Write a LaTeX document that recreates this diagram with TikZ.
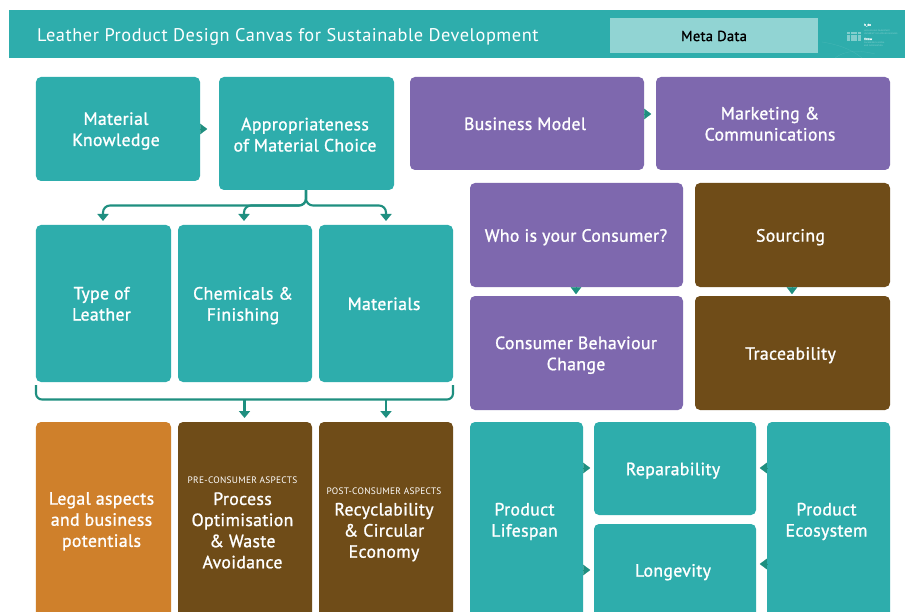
\documentclass[tikz,border=0pt]{standalone}
\usepackage{fontspec}
\setmainfont{PT Sans}[LetterSpace=2,FakeBold=1.2]
\newfontfamily\plainfont{PT Sans}[LetterSpace=3]
\usetikzlibrary{arrows.meta,calc}
\definecolor{teal1}{HTML}{2EADAC}
\definecolor{tealar}{HTML}{1F8F80}
\definecolor{purp}{HTML}{7E68AE}
\definecolor{brown1}{HTML}{6F4C18}
\definecolor{orange1}{HTML}{CF802B}
\definecolor{metac}{HTML}{91D4D3}
\tikzset{
 x=1bp,y=-1bp,
 card/.style={rectangle,rounded corners=5bp,inner sep=0pt},
 cardtext/.style={align=center,text=white,inner sep=0pt,font=\fontsize{17.8}{21.2}\selectfont},
 tealcard/.style={card,fill=teal1},
 purpcard/.style={card,fill=purp},
 browncard/.style={card,fill=brown1},
 orangecard/.style={card,fill=orange1},
 logotext/.style={anchor=west,inner sep=0pt,align=left,text=metac,font=\plainfont\fontsize{2.1}{2.9}\selectfont},
 logohead/.style={anchor=west,inner sep=0pt,text=white,font=\fontsize{3.2}{3.2}\selectfont},
 link/.style={draw=tealar,line width=2.1bp},
 tip/.style={link,-{Triangle[length=7bp,width=11bp]}},
 nub/.style={-{Triangle[length=7bp,width=10.5bp]},draw=tealar,line width=0.1bp,shorten <=-0.5bp},
}
% style,name,x1,y1,x2,y2,text dx,text dy,text
\newcommand{\card}[9]{%
 \node[#1,minimum width=#5bp-#3bp,minimum height=#6bp-#4bp,
   label={[cardtext,xshift=#7bp,yshift=-#8bp]center:{#9}}] (#2) at ({(#3+#5)/2},{(#4+#6)/2}) {};}
\newcommand{\smalltag}[1]{{\plainfont\fontsize{9.4}{17}\selectfont #1}}
\begin{document}
\begin{tikzpicture}
\useasboundingbox (0,0) rectangle (905,612);
\clip (0,0) rectangle (905,612);
\fill[white] (0,0) rectangle (905,612);
\fill[teal1] (9,10) rectangle (905,58);
\draw[metac,opacity=0.25,line width=0.3bp] (822,42) .. controls (835,44) and (850,48) .. (862,58);
\draw[metac,opacity=0.25,line width=0.3bp] (835,58) .. controls (845,50) and (860,50) .. (875,54);
\node[anchor=west,text=white,inner sep=0pt,font=\plainfont\fontsize{18.4}{22}\selectfont] (title) at (37,36.5) {Leather Product Design Canvas for Sustainable Development};
\node[fill=metac,minimum width=208bp,minimum height=35bp,inner sep=0pt,font=\fontsize{14.6}{17}\selectfont,text=black] (meta) at (714,36) {Meta Data};
% logo
\node[logohead] (logoa) at (864,25) {h\_da};
\node[logotext] (logob) at (864,32.5) {HOCHSCHULE DARMSTADT\\UNIVERSITY OF APPLIED SCIENCES};
\node[logohead] (logoc) at (864,39) {fbmw};
\node[logotext] (logod) at (864,44.5) {FACHBEREICH MEDIA\\AND INFORMATION};
\foreach \r in {0,...,2}{\foreach \c in {0,...,3}{
  \fill[metac,opacity=0.85] ({847+\c*3.6},{32+\r*3.2}) rectangle ({847+\c*3.6+3},{32+\r*3.2+2.4});
}}
% cards
\card{tealcard}{mk}{36}{77}{200}{181}{-2}{2}{Material\\Knowledge}
\card{tealcard}{app}{219}{77}{394}{190}{-1.5}{1.2}{Appropriateness\\of Material Choice}
\card{purpcard}{bm}{410}{77}{644}{170}{-2}{0.3}{Business Model}
\card{purpcard}{mc}{656}{77}{890}{170}{-3}{0.3}{Marketing \&\\Communications}
\card{tealcard}{tl}{36}{225}{171}{382}{-2}{0.3}{Type of\\Leather}
\card{tealcard}{cf}{178}{225}{312}{382}{-2}{2.2}{Chemicals \&\\Finishing}
\card{tealcard}{mat}{319}{225}{453}{382}{-2}{0.3}{Materials}
\card{purpcard}{who}{470}{183}{683}{287}{-0.5}{2.2}{Who is your Consumer?}
\card{browncard}{src}{695}{183}{890}{287}{-2}{2.2}{Sourcing}
\card{purpcard}{cbc}{470}{296}{683}{410}{-0.5}{2.2}{Consumer Behaviour\\Change}
\card{browncard}{tr}{695}{296}{890}{410}{-2}{2.2}{Traceability}
\card{orangecard}{leg}{36}{422}{171}{620}{-2}{0.3}{Legal aspects\\and business\\potentials}
\card{browncard}{pre}{178}{422}{312}{620}{-2.5}{1.8}{\smalltag{PRE-CONSUMER ASPECTS}\\Process\\Optimisation\\\&{} Waste\\Avoidance}
\card{browncard}{post}{319}{422}{453}{620}{-2}{3.5}{\smalltag{POST-CONSUMER ASPECTS}\\Recyclability\\\&{} Circular\\Economy}
\card{tealcard}{pl}{470}{422}{583}{620}{-2}{0.5}{Product\\Lifespan}
\card{tealcard}{rep}{594}{422}{756}{515}{-2}{2.2}{Reparability}
\card{tealcard}{lon}{594}{524}{756}{618}{-2}{1.2}{Longevity}
\card{tealcard}{eco}{767}{422}{890}{620}{-2}{0.5}{Product\\Ecosystem}
% small connector nubs
\draw[nub] (mk.east|-0,129) -- ++(7,0);
\draw[nub] (bm.east|-0,114) -- ++(7,0);
\draw[nub] (who.south-|576,0) -- ++(0,7);
\draw[nub] (src.south-|792,0) -- ++(0,7);
\draw[nub] (pl.east|-0,468) -- ++(7,0);
\draw[nub] (pl.east|-0,570) -- ++(7,0);
\draw[nub] (eco.west|-0,468) -- ++(-7,0);
\draw[nub] (eco.west|-0,564) -- ++(-7,0);
% branching connector
\coordinate (hub) at (app.south-|306,0);
\coordinate (t1) at (103,221);
\coordinate (t2) at (244,221);
\coordinate (t3) at (386,221);
\draw[tip,rounded corners=7bp] (hub) -- (306,205.5) -- (103,205.5) -- (t1);
\draw[tip,rounded corners=7bp] (hub) -- (306,205.5) -- (244,205.5) -- (t2);
\draw[tip,rounded corners=7bp] (hub) -- (306,205.5) -- (386,205.5) -- (t3);
% bracket
\coordinate (bl) at (36,385);
\coordinate (br) at (453,385);
\draw[link,rounded corners=6bp] (bl) -- (36,399.5) -- (453,399.5) -- (br);
\coordinate (b2) at (244.5,399.5);
\coordinate (b3) at (386,399.5);
\draw[tip] (b2) -- (244.5,418);
\draw[tip] (b3) -- (386,418);
\end{tikzpicture}
\end{document}
